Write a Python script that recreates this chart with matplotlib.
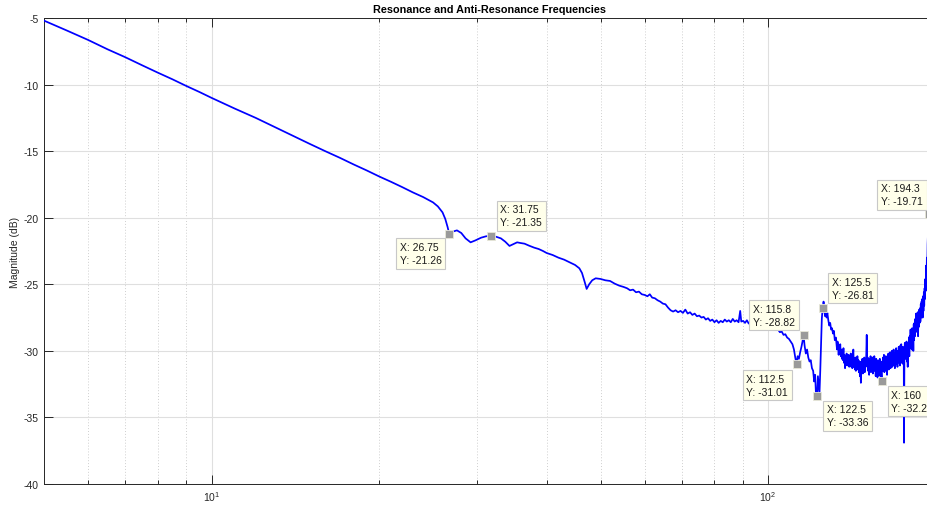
import matplotlib
matplotlib.use("Agg")
import matplotlib.pyplot as plt
from matplotlib.ticker import FixedLocator, NullFormatter, NullLocator

plt.rcParams["font.family"] = ["Liberation Sans", "DejaVu Sans"]
plt.rcParams["mathtext.default"] = "regular"

# Measured magnitude response (Hz, dB)
freq_hz = [
    5.0, 5.5, 6.0, 6.5, 7.0, 7.5, 8.0, 8.5, 9.0, 9.5, 10.0, 11.0, 12.0, 13.0,
    14.0, 15.0, 16.0, 17.0, 18.0, 19.0, 20.0, 21.0, 22.0, 23.0, 24.0, 24.5,
    25.0, 25.5, 26.0, 26.3, 26.55, 26.75, 27.1, 27.6, 28.1, 28.6, 29.2, 29.8,
    30.5, 31.1, 31.75, 32.4, 33.1, 33.7, 34.3, 34.8, 35.4, 35.9, 36.5, 37.2,
    38.0, 38.7, 39.4, 40.0, 41.0, 42.0, 43.0, 44.0, 45.0, 45.8, 46.3, 46.8,
    47.2, 47.7, 48.3, 49.0, 50.0, 51.0, 52.0, 53.0, 54.0,
    55.0, 55.8, 56.5, 57.2, 57.9, 58.6, 59.3, 60.0, 60.7, 61.3, 61.9, 62.6,
    63.3, 64.0, 64.7, 65.4, 66.1, 66.8, 67.5,
    68.2, 68.9, 69.6, 70.3, 71.0, 71.7, 72.4, 73.1, 73.8, 74.5, 75.2, 75.9,
    76.6, 77.3, 78.0, 78.7, 79.4, 80.1, 80.8, 81.5, 82.2, 82.9, 83.6, 84.3,
    85.0, 85.7, 86.4, 87.1, 87.8, 88.5, 89.1, 89.5, 90.2, 90.9, 91.6, 92.3,
    93.0, 93.8, 94.6, 95.4, 96.2, 97.0, 97.8, 98.6, 99.4, 100.2, 101.0,
    101.8, 102.6, 103.4, 104.2, 105.0, 105.8, 106.6, 107.4, 108.2, 109.0,
    109.8, 110.6, 111.3, 111.9, 112.5, 113.0, 113.6, 114.2, 114.8, 115.3,
    115.8, 116.3, 116.9, 117.5, 118.1, 118.7, 119.3, 119.9, 120.5, 121.0,
    121.5, 122.0, 122.5, 122.9, 123.3, 123.7, 124.1, 124.5, 124.9, 125.2,
    125.5, 125.8, 126.2, 126.6, 127.0, 127.4, 127.8, 128.3, 128.8, 129.3,
    129.8, 130.3, 130.8, 131.3, 131.8, 132.4,
    133.0, 133.3, 133.6, 133.9, 134.2, 134.5, 134.8, 135.1, 135.4, 135.7,
    136.0, 136.3, 136.6, 136.9, 137.2, 137.5, 137.8, 138.1, 138.4, 138.7,
    139.0, 139.3, 139.6, 139.9, 140.2, 140.5, 140.8, 141.1, 141.4, 141.7,
    142.0, 142.3, 142.6, 142.9, 143.2, 143.5, 143.8, 144.1, 144.4, 144.7,
    145.0, 145.3, 145.6, 145.9, 146.2, 146.5, 146.8, 147.1, 147.4, 147.7,
    148.0, 148.3, 148.6, 148.9, 149.2, 149.5, 149.8, 150.1, 150.4, 150.7,
    151.0, 151.3, 151.6, 151.9, 152.2, 152.5, 152.8, 153.1, 153.4, 153.7,
    154.0, 154.3, 154.6, 154.9, 155.2, 155.5, 155.8, 156.1, 156.4, 156.7,
    157.0, 157.3, 157.6, 157.9, 158.2, 158.5, 158.8, 159.1, 159.4, 159.7,
    160.0, 160.3, 160.6, 160.9, 161.2, 161.5, 161.8, 162.1, 162.4, 162.7,
    163.0, 163.3, 163.6, 163.9, 164.2, 164.5, 164.8, 165.1, 165.4, 165.7,
    166.0, 166.3, 166.6, 166.9, 167.2, 167.5, 167.8, 168.1, 168.4, 168.7,
    169.0, 169.3, 169.6, 169.9, 170.2, 170.5, 170.8, 171.1, 171.4, 171.7,
    172.0, 172.3, 172.6, 172.9, 173.2, 173.5, 173.8, 174.1, 174.4, 174.7,
    175.0, 175.3, 175.5, 175.8, 176.1, 176.4, 176.7, 177.0, 177.3, 177.6,
    177.9, 178.2, 178.5, 178.8, 179.1, 179.4, 179.7, 180.0, 180.3, 180.6,
    180.9, 181.2, 181.5, 181.8, 182.1, 182.4, 182.7, 183.0, 183.3, 183.6,
    183.9, 184.2, 184.5, 184.8, 185.1, 185.4, 185.7, 186.0, 186.3, 186.6,
    186.9, 187.2, 187.5, 187.8, 188.1, 188.4, 188.7, 189.0, 189.3, 189.6,
    189.9, 190.2, 190.5, 190.8, 191.1, 191.4, 191.7, 192.0, 192.3, 192.6,
    192.9, 193.2, 193.5, 193.8, 194.1, 194.3,
]
mag_db = [
    -5.2, -5.95, -6.65, -7.35, -7.95, -8.55, -9.1, -9.6, -10.1, -10.55, -11.0,
    -11.8, -12.5, -13.2, -13.85, -14.45, -15.0, -15.5, -16.0, -16.45, -16.9,
    -17.3, -17.7, -18.1, -18.45, -18.65, -18.85, -19.15, -19.6, -20.1, -20.7,
    -21.26, -21.05, -20.95, -21.15, -21.55, -21.85, -21.7, -21.5, -21.4,
    -21.35, -21.42, -21.55, -21.8, -22.12, -22.0, -21.85, -21.9, -21.95,
    -22.1, -22.25, -22.35, -22.5, -22.65, -22.8, -23.0, -23.15, -23.35,
    -23.55, -23.8, -24.15, -24.8, -25.35, -25.0, -24.7, -24.55, -24.6, -24.7,
    -24.75, -24.95, -25.1,
    -25.2, -25.3, -25.45, -25.4, -25.6, -25.55, -25.75, -25.8, -25.9, -25.75,
    -26.0, -26.05, -26.2, -26.3, -26.45, -26.5, -26.75, -26.95, -27.05,
    -26.95, -27.1, -27.0, -27.15, -26.9, -27.2, -27.1, -27.3, -27.2, -27.4,
    -27.35, -27.5, -27.45, -27.65, -27.55, -27.75, -27.65, -27.85, -27.7,
    -27.9, -27.75, -27.85, -27.65, -27.8, -27.7, -27.85, -27.6, -27.8, -27.7,
    -27.85, -27.0, -27.8, -27.75, -27.9, -27.7, -27.95, -27.8, -27.9, -27.75,
    -27.95, -27.85, -28.0, -27.9, -28.1, -27.95, -28.15, -28.1, -28.3, -28.2,
    -28.45, -28.4, -28.6, -28.55, -28.8, -28.75, -29.0, -29.1, -29.3, -29.5,
    -29.9, -30.5, -31.01, -30.4, -30.6, -30.1, -29.7, -29.3, -28.82, -29.6,
    -30.2, -29.9, -30.5, -30.8, -30.7, -31.3, -31.5, -32.3, -31.8, -33.6,
    -33.36, -31.9, -32.6, -33.2, -31.5, -29.5, -27.6, -27.0, -26.81, -26.3,
    -27.0, -27.4, -27.2, -27.5, -27.15, -27.7, -28.1, -27.9, -28.4, -28.3,
    -28.7, -28.5, -29.2, -29.0,
    -29.9, -29.3, -29.6, -30.3, -29.7, -30.1, -29.5, -30.4, -29.9, -30.6,
    -30.0, -30.7, -29.8, -30.9, -30.3, -31.3, -30.4, -30.9, -30.2, -31.1,
    -30.4, -30.9, -30.3, -31.2, -30.5, -31.0, -30.2, -31.2, -30.5, -31.3,
    -30.4, -29.9, -31.2, -30.6, -31.4, -30.5, -31.5, -30.6, -31.2, -30.4,
    -31.4, -30.7, -31.6, -30.8, -31.9, -30.9, -32.4, -30.8, -31.5, -30.6,
    -31.7, -30.9, -31.4, -30.5, -31.6, -30.7, -31.2, -30.4, -28.8, -31.1,
    -30.5, -31.5, -30.6, -31.8, -30.8, -31.3, -30.4, -31.6, -30.7, -31.2,
    -30.5, -31.7, -30.6, -31.3, -30.4, -31.5, -30.8, -31.9, -30.6, -31.6,
    -30.9, -32.0, -30.7, -31.8, -30.8, -31.5, -30.6, -31.9, -30.9, -31.7,
    -32.28, -30.8, -31.5, -30.5, -31.2, -30.3, -31.6, -30.6, -31.3, -30.4,
    -31.5, -30.5, -31.8, -30.4, -31.2, -30.2, -31.4, -30.6, -31.1, -30.1,
    -31.3, -30.5, -31.0, -30.0, -31.2, -30.4, -31.0, -29.9, -31.1, -30.3,
    -31.3, -30.2, -30.9, -29.8, -31.0, -30.1, -31.2, -30.0, -30.7, -29.7,
    -30.9, -29.9, -31.1, -29.6, -30.6, -29.5, -30.9, -29.8, -30.5, -29.7,
    -31.0, -30.2, -36.9, -30.0, -29.4, -30.6, -29.5, -30.3, -29.3, -30.8,
    -29.4, -31.2, -29.6, -30.0, -29.0, -30.4, -28.9, -29.7, -28.4, -29.8,
    -28.6, -29.9, -28.3, -29.5, -28.5, -30.0, -28.0, -29.2, -27.9, -28.9,
    -27.6, -28.6, -27.2, -28.3, -27.4, -28.5, -27.1, -28.9, -27.3, -28.2,
    -26.9, -27.9, -26.8, -27.8, -26.5, -27.5, -26.3, -27.3, -26.1, -27.5,
    -25.9, -27.0, -25.6, -26.6, -25.3, -26.1, -24.6, -25.5, -23.6, -24.8,
    -23.0, -24.1, -22.0, -21.2, -20.4, -19.71,
]

# Resonance / anti-resonance points picked on the curve
tip_freq = [26.75, 31.75, 115.8, 112.5, 125.5, 122.5, 160.0, 194.3]
tip_mag = [-21.26, -21.35, -28.82, -31.01, -26.81, -33.36, -32.28, -19.71]
tip_xtext = ["26.75", "31.75", "115.8", "112.5", "125.5", "122.5", "160", "194.3"]

# Box placement: which corner of the box sits next to the point, and its gap (px)
tip_place = [
    ("right", "top", -4, -4),
    ("left", "bottom", 6, 5),
    ("right", "bottom", -5, 5),
    ("right", "top", -5, -6),
    ("left", "bottom", 5, 5),
    ("left", "top", 6, -5),
    ("left", "top", 6, -5),
    ("right", "bottom", -2, 4),
]

x_major = [10, 100]
x_minor = [6, 7, 8, 9, 20, 30, 40, 50, 60, 70, 80, 90, 200]
y_ticks = [-40, -35, -30, -25, -20, -15, -10, -5]

W, H = 928, 506
fig = plt.figure(figsize=(W / 100, H / 100), dpi=100)
ax = fig.add_axes([44.1 / W, 21 / H, 891.5 / W, 466 / H])

axis_col = "#262626"
ax.plot(freq_hz, mag_db, color=(0, 0, 1), lw=1.25, zorder=3)

ax.set_xscale("log")
ax.set_xlim(5, 200)
ax.set_ylim(-40, -5)

ax.xaxis.set_major_locator(FixedLocator(x_major))
ax.xaxis.set_minor_locator(FixedLocator(x_minor))
ax.xaxis.set_minor_formatter(NullFormatter())
ax.set_xticklabels(["$10^{1}$", "$10^{2}$"])
ax.yaxis.set_major_locator(FixedLocator(y_ticks))
ax.yaxis.set_minor_locator(NullLocator())
ax.set_yticklabels([str(v) for v in y_ticks])

ax.tick_params(which="both", direction="in", top=True, right=True,
               color=axis_col, labelcolor=axis_col, labelsize=7.5, width=0.7)
ax.tick_params(which="major", length=6.5, pad=4)
ax.tick_params(which="minor", length=3.2)
for s in ax.spines.values():
    s.set_color(axis_col)
    s.set_linewidth(0.7)

ax.grid(True, which="major", color="#dfdfdf", lw=0.8, ls="-", zorder=0)
ax.grid(True, which="minor", axis="x", color="#cfcfcf", lw=0.7,
        ls=(0, (1, 2)), zorder=0)
ax.set_axisbelow(True)

ax.set_title("Resonance and Anti-Resonance Frequencies", fontsize=7.8,
             fontweight="bold", color="#000000", pad=4)
ax.set_ylabel("Magnitude (dB)", fontsize=7.5, color=axis_col, labelpad=2.5)

ax.plot(tip_freq, tip_mag, ls="none", marker="s", markersize=5.5,
        markerfacecolor="#9a9a9a", markeredgecolor="#e8e8d8",
        markeredgewidth=0.6, zorder=5, clip_on=False)

pad_px = 3.6
for f, m, xs, (ha, va, ox, oy) in zip(tip_freq, tip_mag, tip_xtext, tip_place):
    dx = ox + (pad_px if ha == "left" else -pad_px)
    dy = oy + (pad_px if va == "bottom" else -pad_px)
    ax.annotate(f"X: {xs}\nY: {m:.2f}", xy=(f, m), xytext=(dx, dy),
                textcoords="offset pixels", ha=ha, va=va, multialignment="left",
                fontsize=7.5, color="#1a1a1a", linespacing=1.35,
                annotation_clip=False, zorder=6,
                bbox=dict(boxstyle="square,pad=0.35", fc="#ffffea",
                          ec="#c8c8c8", lw=0.8))

fig.savefig("out.png", dpi=100)
